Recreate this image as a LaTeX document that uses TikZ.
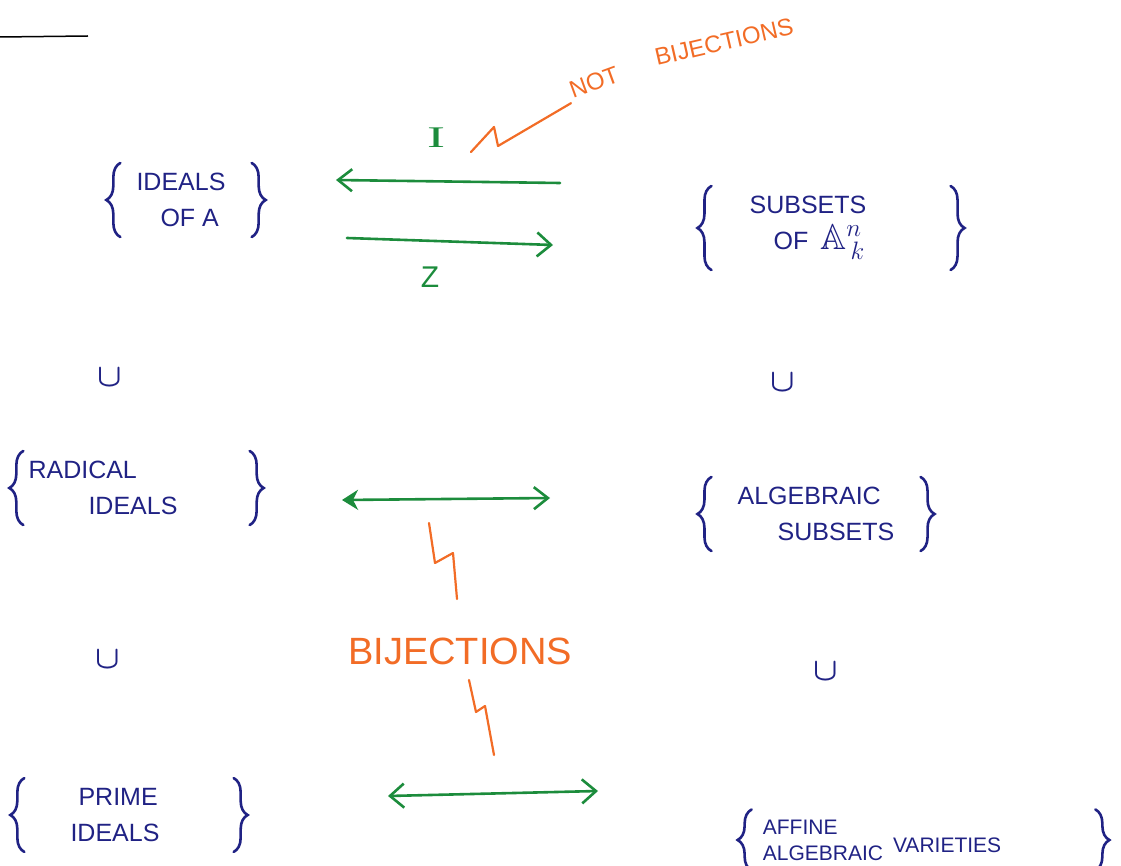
\RequirePackage{fix-cm}
\documentclass[tikz,border=0pt]{standalone}
\usepackage{fontspec}
\setmainfont{Liberation Sans}
\newfontfamily\serifpen{Liberation Serif}
\usepackage{amssymb}
\usetikzlibrary{arrows.meta,decorations.pathreplacing}
\definecolor{ink}{RGB}{32,34,132}
\definecolor{pen}{RGB}{28,140,60}
\definecolor{marker}{RGB}{242,108,38}
\newcommand{\setbraces}[3]{%
	\draw[curly] ([xshift=-#2]#1.south west) -- ([xshift=-#2]#1.north west);
	\draw[curly] ([xshift=#3]#1.north east) -- ([xshift=#3]#1.south east)}

\begin{document}
\begin{tikzpicture}[x=1pt,y=-1pt,
		set/.style={text=ink,font=\fontsize{25}{36}\selectfont,align=left,inner xsep=4pt,inner ysep=10pt},
		curly/.style={draw=ink,line width=2.6pt,line cap=round,decorate,decoration={brace,amplitude=14pt}},
		incl/.style={text=ink,font=\fontsize{32}{32}\selectfont\boldmath},
		map/.style={draw=pen,line width=2.6pt,line cap=round},
		maplbl/.style={text=pen,font=\fontsize{30}{30}\selectfont},
		zig/.style={draw=marker,line width=2.2pt,line join=round,line cap=round},
		note/.style={text=marker,font=\fontsize{24}{24}\selectfont}]
		\useasboundingbox (0,0) rectangle (1121,866);
		\draw[line width=1.5pt] (0,37) -- (88,36);
		\begin{scope}
			\node[set] (ideals) at (181,200) {IDEALS\\\hspace*{24pt}OF A};
			\node[set] (subsets) at (808,228) {SUBSETS\\\hspace*{24pt}OF\hspace{12pt}{\fontsize{36}{36}\selectfont$\mathbb{A}^{n}_{\,k}$}};
			\node[set] (radical) at (103,488) {RADICAL\\\hspace*{60pt}IDEALS};
			\node[set] (algebraic) at (816,514) {ALGEBRAIC\\\hspace*{40pt}SUBSETS};
			\node[set] (prime) at (115,815) {\hspace*{8pt}PRIME\\IDEALS};
			\node[set,font=\fontsize{21}{26}\selectfont] (varieties) at (882,840) {AFFINE\\ALGEBRAIC\hspace{10pt}\raisebox{8pt}{VARIETIES}};

			\setbraces{ideals}{12pt}{22pt};
			\setbraces{subsets}{34pt}{80pt};
			\setbraces{radical}{1pt}{68pt};
			\setbraces{algebraic}{22pt}{22pt};
			\setbraces{prime}{42pt}{70pt};
			\setbraces{varieties}{7pt}{90pt};

			\node[incl] (inc1) at (110,378) {$\cup$};
			\node[incl] (inc2) at (783,383) {$\cup$};
			\node[incl] (inc3) at (108,660) {$\cup$};
			\node[incl] (inc4) at (826,672) {$\cup$};
		\end{scope}
		\begin{scope}
			\coordinate (iS) at (560,183);
			\coordinate (iT) at (336,180);
			\coordinate (zS) at (347,238);
			\coordinate (zT) at (553,245);
			\coordinate (rS) at (342,500);
			\coordinate (rT) at (550,498);
			\coordinate (pS) at (388,796);
			\coordinate (pT) at (598,791);
			\draw[map,-{Straight Barb[length=14pt,width=22pt]}] (iS) -- (iT);
			\draw[map,-{Straight Barb[length=14pt,width=24pt]}] (zS) -- (zT);
			\draw[map,{Stealth[length=16pt,width=20pt,inset=5pt]}-{Straight Barb[length=14pt,width=22pt]}] (rS) -- (rT);
			\draw[map,{Straight Barb[length=14pt,width=24pt]}-{Straight Barb[length=14pt,width=24pt]}] (pS) -- (pT);
			\node[maplbl] (lblI) at (436,138) {\serifpen\scalebox{1.8}[1]{I}};
			\node[maplbl] (lblZ) at (430,277) {Z};
		\end{scope}
		\begin{scope}
			\node[note,rotate=20] (notlbl) at (594,82) {NOT};
			\node[note,rotate=13] (bijlbl) at (724,42) {BIJECTIONS};
			\node[note,font=\fontsize{38}{38}\selectfont] (bij) at (460,651) {BIJECTIONS};
			\coordinate (zigA) at (471,152);
			\coordinate (boltA) at (429,523);
			\coordinate (boltB) at (469,680);
			\draw[zig] (zigA) -- ++(23,-25) -- ++(4,19) -- (notlbl.south west);
			\draw[zig] (boltA) -- ++(6,40) -- ++(18,-10) -- ++(4,46);
			\draw[zig] (boltB) -- ++(7,32) -- ++(9,-6) -- ++(9,49);
		\end{scope}
	\end{tikzpicture}
\end{document}
